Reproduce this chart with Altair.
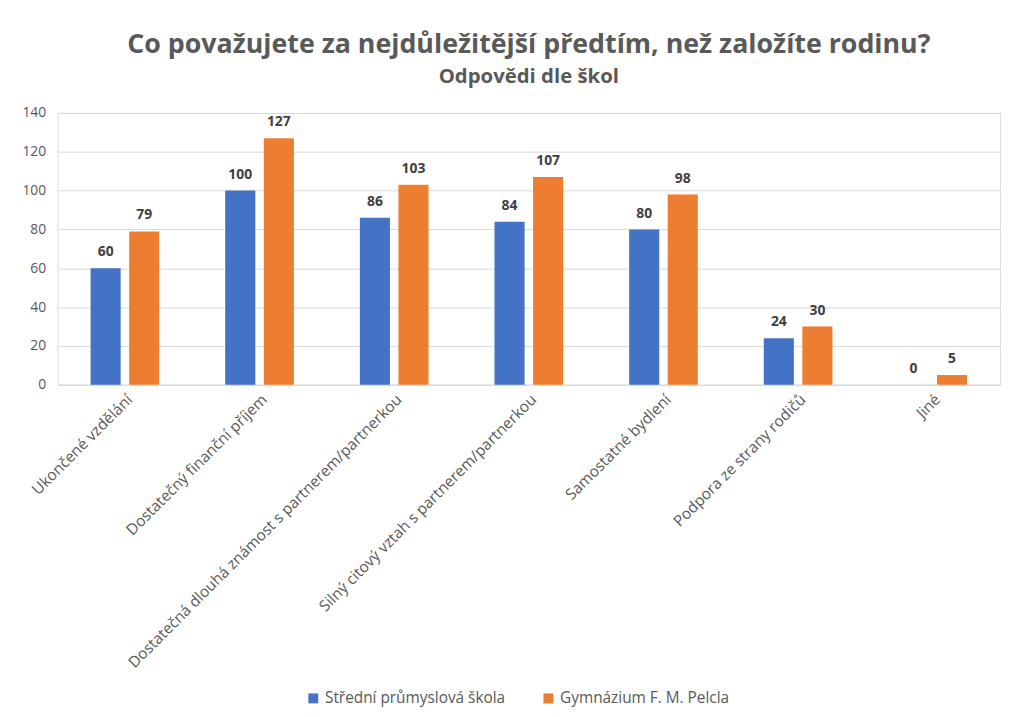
import altair as alt
import pandas as pd

categories = [
    "Ukončené vzdělání",
    "Dostatečný finanční příjem",
    "Dostatečná dlouhá známost s partnerem/partnerkou",
    "Silný citový vztah s partnerem/partnerkou",
    "Samostatné bydlení",
    "Podpora ze strany rodičů",
    "Jiné",
]
schools = ["Střední průmyslová škola", "Gymnázium F. M. Pelcla"]
spps_values = [60, 100, 86, 84, 80, 24, 0]
gym_values = [79, 127, 103, 107, 98, 30, 5]
colors = ["#4472C4", "#ED7D31"]

rows = []
for c, a, b in zip(categories, spps_values, gym_values):
    rows.append({"cat": c, "school": schools[0], "value": a})
    rows.append({"cat": c, "school": schools[1], "value": b})
df = pd.DataFrame(rows)

FONT = "Open Sans"

x = alt.X("cat:N", sort=categories, title=None,
          scale=alt.Scale(paddingInner=0.49, paddingOuter=0.245),
          axis=alt.Axis(labelAngle=-45, labelAlign="right", labelBaseline="middle",
                        labelFontSize=15.5, labelColor="#595959", labelFont=FONT,
                        labelPadding=12, labelOffset=5, ticks=False,
                        domainColor="#d9d9d9", labelLimit=500))
xo = alt.XOffset("school:N", sort=schools, scale=alt.Scale(paddingInner=0.22))
y = alt.Y("value:Q", title=None,
          scale=alt.Scale(domain=[0, 140], nice=False),
          axis=alt.Axis(values=[0, 20, 40, 60, 80, 100, 120, 140], ticks=False,
                        domain=False, gridColor="#d9d9d9", labelFontSize=14,
                        labelColor="#595959", labelFont=FONT, labelPadding=12))
color = alt.Color("school:N", sort=schools, title=None,
                  scale=alt.Scale(domain=schools, range=colors),
                  legend=alt.Legend(orient="none", legendX=250, legendY=582,
                                    direction="horizontal", symbolType="square",
                                    symbolSize=100, symbolStrokeWidth=0,
                                    labelFontSize=15.5, labelColor="#595959",
                                    labelFont=FONT, columnPadding=35,
                                    labelLimit=400))

base = alt.Chart(df)
bars = base.mark_bar().encode(x=x, xOffset=xo, y=y, color=color)
labels = base.mark_text(baseline="bottom", dy=-9, fontSize=14, fontWeight="bold",
                        color="#404040", font=FONT).encode(
    x=x, xOffset=xo, y=y, text="value:Q")

chart = (bars + labels).properties(
    width=950, height=274,
    autosize=alt.AutoSizeParams(type="none"),
    padding={"left": 50, "top": 103, "right": 8, "bottom": 322},
    title=alt.Title(
        "Co považujete za nejdůležitější předtím, než založíte rodinu?",
        subtitle="Odpovědi dle škol",
        font=FONT, fontSize=27, fontWeight="bold", color="#595959",
        subtitleFont=FONT, subtitleFontSize=20.5, subtitleFontWeight="bold",
        subtitleColor="#595959", subtitlePadding=8, offset=18, anchor="middle",
    ),
).configure_view(stroke=None).configure(background="white")

chart.save("out.html", embed_options={"renderer": "svg", "actions": False})
